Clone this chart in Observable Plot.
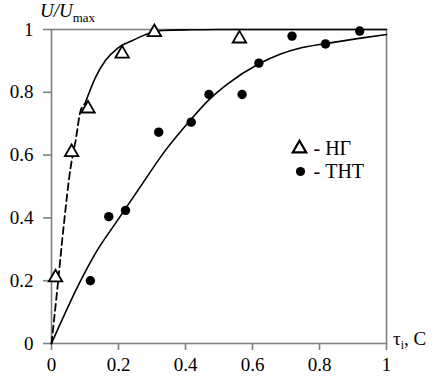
<!DOCTYPE html>
<html><head><meta charset="utf-8">
<script src="https://cdn.jsdelivr.net/npm/d3@7"></script>
<script src="https://cdn.jsdelivr.net/npm/@observablehq/plot@0.6"></script>
<style>
body{margin:0;background:#fff}
</style>
</head><body><div id="chart"></div>
<script>
// Series НГ (triangles)
const ngX = [0.012, 0.06, 0.109, 0.211, 0.307, 0.561];
const ngY = [0.21, 0.609, 0.748, 0.923, 0.991, 0.971];
// Series ТНТ (filled dots)
const thtX = [0.116, 0.171, 0.221, 0.32, 0.417, 0.47, 0.569, 0.619, 0.718, 0.818, 0.92];
const thtY = [0.20, 0.404, 0.424, 0.673, 0.705, 0.793, 0.793, 0.893, 0.979, 0.954, 0.995];
// НГ fitted curve: dashed part, then solid part
const ngDashX = [0, 0.018, 0.036, 0.057, 0.072, 0.087, 0.1];
const ngDashY = [0, 0.18, 0.37, 0.56, 0.646, 0.742, 0.764];
const ngSolidX = [0.1, 0.131, 0.161, 0.197, 0.242, 0.29, 0.331, 0.42, 0.5, 1.0];
const ngSolidY = [0.764, 0.847, 0.901, 0.94, 0.965, 0.987, 0.997, 0.999, 1.0, 1.0];
// ТНТ fitted curve
const thtCurveX = [0, 0.087, 0.131, 0.197, 0.272, 0.34, 0.415, 0.466, 0.525, 0.618, 0.684, 0.743, 0.818, 0.913, 1.0];
const thtCurveY = [0, 0.2, 0.287, 0.392, 0.51, 0.615, 0.712, 0.772, 0.826, 0.89, 0.922, 0.941, 0.955, 0.971, 0.984];
// ticks and labels
const xTicks = [0, 0.2, 0.4, 0.6, 0.8, 1];
const yTicks = [0, 0.2, 0.4, 0.6, 0.8, 1];
const legendLabels = ["- НГ", "- ТНТ"];

const zip = (xs, ys) => xs.map((x, i) => ({x, y: ys[i]}));
const ng = zip(ngX, ngY), tht = zip(thtX, thtY);
const ngDash = zip(ngDashX, ngDashY), ngSolid = zip(ngSolidX, ngSolidY);
const thtCurve = zip(thtCurveX, thtCurveY);
const fmt = d => String(d);
const FONT = "'Liberation Serif', 'Times New Roman', Tinos, 'DejaVu Serif', 'Noto Serif', FreeSerif, Times, serif";

const chart = Plot.plot({
  width: 437, height: 392,
  marginLeft: 51, marginRight: 51, marginTop: 29, marginBottom: 49,
  style: {fontFamily: FONT, fontSize: "19px", background: "#fff", color: "#000"},
  x: {domain: [0, 1]},
  y: {domain: [0, 1]},
  marks: [
    Plot.axisX({ticks: xTicks, tickFormat: fmt, tickSize: 7, tickPadding: 7, stroke: "#808080", strokeWidth: 1.6, fill: "#000", label: null, fontSize: 19}),
    Plot.axisY({ticks: yTicks, tickFormat: fmt, tickSize: 8, tickPadding: 10, stroke: "#808080", strokeWidth: 1.6, fill: "#000", label: null, fontSize: 19}),
    Plot.frame({stroke: "#808080", strokeWidth: 1.6}),
    Plot.line(ngDash, {x: "x", y: "y", stroke: "#000", strokeWidth: 1.8, strokeDasharray: "7,4", curve: "monotone-x"}),
    Plot.line(ngSolid, {x: "x", y: "y", stroke: "#000", strokeWidth: 1.6, curve: "monotone-x"}),
    Plot.line(thtCurve, {x: "x", y: "y", stroke: "#000", strokeWidth: 1.6, curve: "monotone-x"}),
    Plot.dot(ng, {x: "x", y: "y", symbol: "triangle", r: 5, stroke: "#000", strokeWidth: 1.8, fill: "#fff"}),
    Plot.dot(tht, {x: "x", y: "y", r: 4.7, fill: "#000", stroke: null}),
    // legend
    Plot.dot([legendLabels[0]], {frameAnchor: "top-left", dx: 248, dy: 119, symbol: "triangle", r: 5, stroke: "#000", strokeWidth: 2.2, fill: "#fff"}),
    Plot.dot([legendLabels[1]], {frameAnchor: "top-left", dx: 249, dy: 142, r: 4.6, fill: "#000", stroke: null}),
    Plot.text([legendLabels[0]], {text: d => d, frameAnchor: "top-left", dx: 262, dy: 119, textAnchor: "start", lineAnchor: "middle", fontSize: 20, fill: "#000"}),
    Plot.text([legendLabels[1]], {text: d => d, frameAnchor: "top-left", dx: 262, dy: 142, textAnchor: "start", lineAnchor: "middle", fontSize: 20, fill: "#000"})
  ]
});
document.getElementById("chart").appendChild(chart);

const svg = d3.select(chart);
const sx = chart.scale("x"), sy = chart.scale("y");
// y label U/Umax
const yl = svg.append("text").attr("x", 40).attr("y", 17).attr("text-anchor", "start")
  .attr("font-family", FONT).attr("font-size", 19).attr("fill", "#000");
yl.append("tspan").attr("font-style", "italic").text("U/U");
yl.append("tspan").attr("font-size", 13).attr("dy", 5).text("max");
// x label τi, с
const xl = svg.append("text").attr("x", sx.apply(1) + 7).attr("y", sy.apply(0) + 2).attr("text-anchor", "start")
  .attr("font-family", FONT).attr("font-size", 19).attr("fill", "#000");
xl.append("tspan").text("τ");
xl.append("tspan").attr("font-size", 12).attr("dy", 4).text("i");
xl.append("tspan").attr("dy", -4).text(", С");
</script>
</body></html>
